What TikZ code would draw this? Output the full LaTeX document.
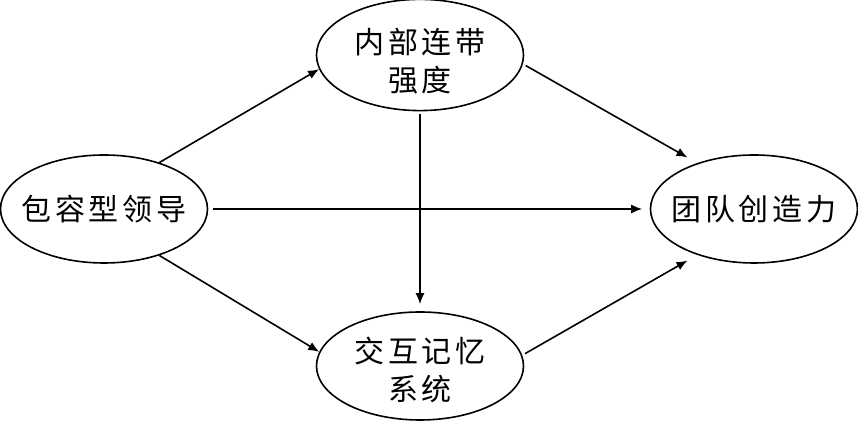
\documentclass[tikz,border=0pt]{standalone}
\usepackage{fontspec}
\usepackage{tikz}
\newfontfamily\cjk[LetterSpace=13]{Noto Sans CJK SC}
\usetikzlibrary{shapes,arrows.meta,positioning,calc}

\begin{document}
\begin{tikzpicture}[x=0.5pt,y=-0.5pt,
    factor/.style={draw, ellipse, line width=0.8pt, minimum width=103.5pt, minimum height=54pt,
        inner xsep=-8pt, inner ysep=0pt, align=center, font={\cjk\fontsize{15pt}{19pt}\selectfont}},
    link/.style={line width=0.8pt, -{Latex[length=5.5pt,width=4.5pt]}}]
    \useasboundingbox (0,0) rectangle (858,421);
    % the four variables
    \node[factor] (lead) at (104,209) {包容型领导};
    \node[factor] (tie) at (420,55) {\rule{0pt}{19pt}内部连带\\强度};
    \node[factor] (tms) at (420,366) {\rule{0pt}{17pt}交互记忆\\系统};
    \node[factor] (crea) at (754,209) {团队创造力};
    % paths
    \draw[link] (lead.40) -- (tie.188);
    \draw[link] (lead.-40) -- (tms.172);
    \draw[link, shorten <=2.5pt, shorten >=3.75pt] (lead.east) -- (crea.west);
    \draw[link, shorten <=1.5pt, shorten >=3.5pt] (tie.south) -- (tms.north);
    \draw[link, shorten <=1.6pt, shorten >=5.6pt] (tie.-5) -- (crea.141);
    \draw[link, shorten <=1.6pt, shorten >=5.6pt] (tms.6) -- (crea.-141);
\end{tikzpicture}
\end{document}
